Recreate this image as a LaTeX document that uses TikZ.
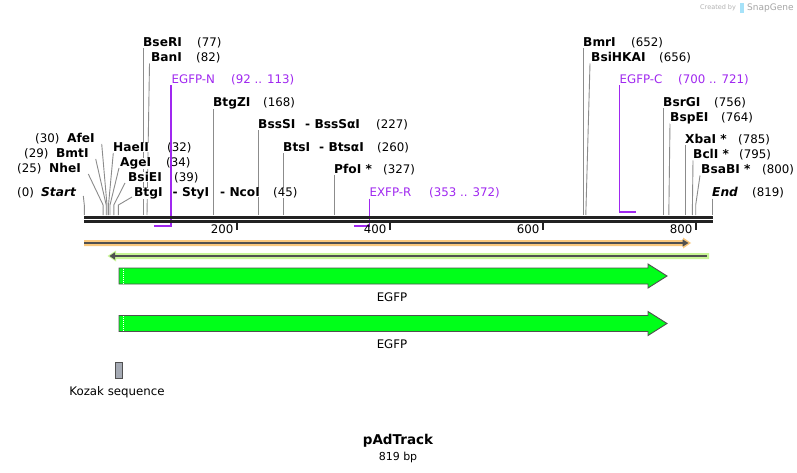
\documentclass[tikz,border=0pt]{standalone}
\usepackage{fontspec}
\setmainfont{DejaVu Sans}
\definecolor{sitegray}{RGB}{140,140,140}
\definecolor{primer}{RGB}{160,40,240}
\definecolor{orangeband}{RGB}{250,200,125}
\definecolor{greenband}{RGB}{200,245,150}
\definecolor{egfp}{RGB}{0,255,25}
\definecolor{edge}{RGB}{80,80,80}
\definecolor{kozak}{RGB}{165,170,180}
\definecolor{bbone}{RGB}{34,34,34}
\tikzset{
  enz/.style={anchor=base west, inner sep=0pt, fill=white, font=\fontsize{12.2}{14}\selectfont\bfseries},
  num/.style={anchor=base west, inner sep=0pt, fill=white, font=\fontsize{11.8}{13}\selectfont},
  prim/.style={anchor=base west, inner sep=0pt, text=primer, font=\fontsize{11.8}{13}\selectfont},
  site/.style={draw=sitegray, line width=0.9pt},
  pline/.style={draw=primer, line width=1.1pt},
  pbar/.style={draw=primer, line width=2.3pt},
  feat/.style={fill=egfp, draw=edge, line width=0.9pt, line join=miter},
  ftext/.style={font=\fontsize{11.8}{13}\selectfont, inner sep=0pt}
}
\begin{document}
\begin{tikzpicture}[x=1pt,y=-1pt]
\useasboundingbox[fill=white] (0,0) rectangle (797,473);

% watermark
\node[anchor=base west, inner sep=0pt, text=black!30, font=\fontsize{6.5}{8}\selectfont] (crby) at (700,10) {Created by};
\fill[cyan!35] (740,3) rectangle (743.5,13);
\node[anchor=base west, inner sep=0pt, text=black!35, font=\fontsize{9}{10}\selectfont] (sg) at (747,11) {SnapGene};

% site coordinates on backbone
\foreach \n/\x in {s0/84.3,s25/103.1,s29/106.2,s30/107,s32/108.5,s34/110,s39/113.8,s45/118.4,
  s77/143,s82/147,s168/213,s227/258,s260/283,s327/334,s652/583.3,s656/585.8,s756/663.3,
  s764/668.8,s785/685,s795/692.3,s800/695.7,s819/712.3}
  \coordinate (\n) at (\x,215);

% label lines
\draw[site] (143,48.5) -- (s77);
\draw[site] (149.5,63.5) -- (s82);
\draw[site] (213,108.5) -- (s168);
\draw[site] (258,130.5) -- (s227);
\draw[site] (283,153.5) -- (s260);
\draw[site] (334,175.5) -- (s327);
\draw[site] (583.3,48.5) -- (s652);
\draw[site] (590,63.5) -- (s656);
\draw[site] (663.3,108.5) -- (s756);
\draw[site] (670,123.5) -- (s764);
\draw[site] (685,145.5) -- (s785);
\draw[site] (693,160.5) -- (s795);
\draw[site] (700,175.5) -- (695.7,205) -- (s800);
\draw[site] (712.3,198.5) -- (s819);
\draw[site] (83.3,196) -- (84.3,205) -- (s0);
\draw[site] (88.3,174) -- (103.1,205) -- (s25);
\draw[site] (95.7,159) -- (106.2,205) -- (s29);
\draw[site] (101.7,144) -- (107,205) -- (s30);
\draw[site] (113.3,153) -- (108.5,205) -- (s32);
\draw[site] (119,168) -- (110,205) -- (s34);
\draw[site] (125,183) -- (113.8,205) -- (s39);
\draw[site] (132,197) -- (118.4,205) -- (s45);

% labels
\node[enz] (BseRI) at (143,46.5) {BseRI};
\node[num] (n77) at (197,46.5) {(77)};
\node[enz] (BanI) at (151,61.5) {BanI};
\node[num] (n82) at (196,61.5) {(82)};
\node[prim] (EGFPN) at (171.5,83.5) {EGFP-N};
\node[prim] (nEN) at (231,83.5) {(92 .. 113)};
\node[enz] (BtgZI) at (213,106.5) {BtgZI};
\node[num] (n168) at (263,106.5) {(168)};
\node[enz] (BssSI) at (258,128.5) {BssSI};
\node[enz] (BssSaI) at (305,128.5) {- BssSαI};
\node[num] (n227) at (376,128.5) {(227)};
\node[enz] (BtsI) at (283,151.5) {BtsI};
\node[enz] (BtsaI) at (319,151.5) {- BtsαI};
\node[num] (n260) at (377,151.5) {(260)};
\node[enz] (PfoI) at (334,173.5) {PfoI *};
\node[num] (n327) at (383,173.5) {(327)};
\node[prim] (EXFPR) at (369.5,196.5) {EXFP-R};
\node[prim] (nER) at (429,196.5) {(353 .. 372)};
\node[enz] (BmrI) at (583,46.5) {BmrI};
\node[num] (n652) at (631,46.5) {(652)};
\node[enz] (BsiHKAI) at (591,61.5) {BsiHKAI};
\node[num] (n656) at (659,61.5) {(656)};
\node[prim] (EGFPC) at (619.5,83.5) {EGFP-C};
\node[prim] (nEC) at (678,83.5) {(700 .. 721)};
\node[enz] (BsrGI) at (663,106.5) {BsrGI};
\node[num] (n756) at (714,106.5) {(756)};
\node[enz] (BspEI) at (670,121.5) {BspEI};
\node[num] (n764) at (721,121.5) {(764)};
\node[enz] (XbaI) at (685,143.5) {XbaI *};
\node[num] (n785) at (738,143.5) {(785)};
\node[enz] (BclI) at (693,158.5) {BclI *};
\node[num] (n795) at (739,158.5) {(795)};
\node[enz] (BsaBI) at (701,173.5) {BsaBI *};
\node[num] (n800) at (762,173.5) {(800)};
\node[enz, font=\fontsize{12.2}{14}\selectfont\bfseries\itshape] (End) at (712,196.5) {End};
\node[num] (n819) at (752,196.5) {(819)};
\node[num] (n0) at (17,196.5) {(0)};
\node[enz, font=\fontsize{12.2}{14}\selectfont\bfseries\itshape] (Start) at (41,196.5) {Start};
\node[num] (n25) at (17,172.5) {(25)};
\node[enz] (NheI) at (49,172.5) {NheI};
\node[num] (n29) at (24,157.5) {(29)};
\node[enz] (BmtI) at (56,157.5) {BmtI};
\node[num] (n30) at (35,142.5) {(30)};
\node[enz] (AfeI) at (67,142.5) {AfeI};
\node[enz] (HaeII) at (113,151.5) {HaeII};
\node[num] (n32) at (167,151.5) {(32)};
\node[enz] (AgeI) at (120,166.5) {AgeI};
\node[num] (n34) at (166,166.5) {(34)};
\node[enz] (BsiEI) at (128,181.5) {BsiEI};
\node[num] (n39) at (174,181.5) {(39)};
\node[enz] (BtgI) at (134,196.5) {BtgI};
\node[enz] (StyI) at (172.5,196.5) {- StyI};
\node[enz] (NcoI) at (220,196.5) {- NcoI};
\node[num] (n45) at (273,196.5) {(45)};

% primers (drawn over the labels)
\coordinate (pN) at (171,227);
\coordinate (pR) at (369.3,227);
\coordinate (pC) at (619.3,213.3);
\draw[pline] (171,85.5) -- (pN);
\draw[pbar] (154,225.8) -- (171.5,225.8);
\draw[pline] (369.3,198.5) -- (pR);
\draw[pbar] (354,225.8) -- (369.8,225.8);
\draw[pline] (619.3,85.5) -- (pC);
\draw[pbar] (618.8,212.3) -- (635.6,212.3);

% backbone
\coordinate (bbL) at (84,217.4);
\coordinate (bbR) at (712.5,217.4);
\coordinate (bbL2) at (84,221.6);
\coordinate (bbR2) at (712.5,221.6);
\draw[bbone, line width=2.8pt] (bbL) -- (bbR);
\draw[bbone, line width=2.6pt] (bbL2) -- (bbR2);

% ticks
\foreach \x/\t in {237/200,390/400,543/600,696/800}{
  \draw[bbone, line width=1.8pt] (\x,222) -- (\x,230);
  \node[num, fill=none, anchor=base east] (t\t) at (\x-3.5,233.5) {\t};
}

% orange feature (forward)
\fill[orangeband] (84,240) -- (683,240) -- (683,237.5) -- (691,243) -- (683,248.5) -- (683,246) -- (84,246) -- cycle;
\coordinate (oL) at (84,243);
\coordinate (oR) at (684,243);
\draw[edge, line width=1.6pt] (oL) -- (oR);
\fill[edge] (682.5,239.3) -- (688.5,243) -- (682.5,246.7) -- cycle;

% green feature (reverse)
\fill[greenband] (709,253) -- (116,253) -- (116,250.5) -- (107.5,256) -- (116,261.5) -- (116,259) -- (709,259) -- cycle;
\coordinate (gL) at (114,256);
\coordinate (gR) at (707,256);
\draw[edge, line width=1.6pt] (gL) -- (gR);
\fill[edge] (115,252.3) -- (109.5,256) -- (115,259.7) -- cycle;

% EGFP arrows
\draw[feat] (119,268) -- (648,268) -- (648,264) -- (667,276) -- (648,288) -- (648,284) -- (119,284) -- cycle;
\draw[white, line width=0.8pt, dash pattern=on 1pt off 1pt] (123.8,268.6) -- (123.8,283.4);
\node[ftext] (egfp1) at (392,297) {EGFP};
\draw[feat] (119,315.5) -- (648,315.5) -- (648,311.5) -- (667,323.5) -- (648,335.5) -- (648,331.5) -- (119,331.5) -- cycle;
\draw[white, line width=0.8pt, dash pattern=on 1pt off 1pt] (123.8,316.1) -- (123.8,330.9);
\node[ftext] (egfp2) at (392,344.5) {EGFP};

% Kozak
\draw[fill=kozak, draw=edge, line width=0.9pt] (115.5,362.5) rectangle (122.5,378);
\node[ftext] (koz) at (117,392) {Kozak sequence};

% title
\node[inner sep=0pt, font=\fontsize{13.5}{15}\selectfont\bfseries] (title) at (398,441) {pAdTrack};
\node[inner sep=0pt, font=\fontsize{11}{12}\selectfont] (bp) at (398,457.5) {819 bp};
\end{tikzpicture}
\end{document}
